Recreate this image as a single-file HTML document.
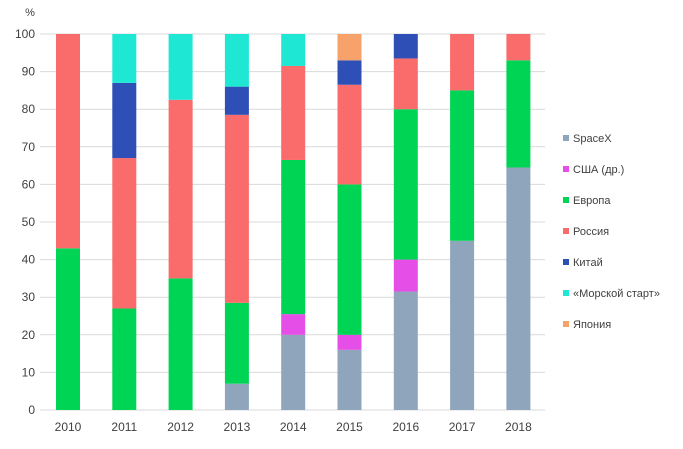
<!DOCTYPE html>
<html><head><meta charset="utf-8"><style>
body{margin:0;background:#fff;}
svg{display:block;font-family:"Liberation Sans",sans-serif;}
</style></head><body>
<svg id="c" width="683" height="449"></svg>
<script>
const years=["2010","2011","2012","2013","2014","2015","2016","2017","2018"];
const seriesNames=["SpaceX","США (др.)","Европа","Россия","Китай","«Морской старт»","Япония"];
const seriesColors=["#8ea5bb","#e64ee8","#00d454","#fa6b6b","#2e4fb5","#1ee8d4","#f6a26a"];
const spacex=[0,0,0,7,20,16,31.5,45,64.5];
const usa=[0,0,0,0,5.5,4,8.5,0,0];
const europe=[43,27,35,21.5,41,40,40,40,28.5];
const russia=[57,40,47.5,50,25,26.5,13.5,15,7];
const china=[0,20,0,7.5,0,6.5,6.5,0,0];
const seaLaunch=[0,13,17.5,14,8.5,0,0,0,0];
const japan=[0,0,0,0,0,7,0,0,0];
const yTicks=[0,10,20,30,40,50,60,70,80,90,100];
const series=[spacex,usa,europe,russia,china,seaLaunch,japan];
const NS="http://www.w3.org/2000/svg";
const svg=document.getElementById('c');
const y0=410,y100=34,xLeft=40,xRight=545;
const yS=v=>y0-(y0-y100)*v/100;
const xS=i=>68+i*56.3;
const bw=24;
function mk(t,a){const e=document.createElementNS(NS,t);for(const k in a)e.setAttribute(k,a[k]);svg.appendChild(e);return e;}
yTicks.forEach(t=>{
  const l=mk('line',{x1:xLeft,x2:xRight,y1:yS(t),y2:yS(t),stroke:'#d9d9d9','stroke-width':1});
  
  
  const tx=mk('text',{x:35,y:yS(t)+4,'text-anchor':'end','font-size':12,fill:'#404040'});
  tx.textContent=t;
  
  
});
const pc=mk('text',{x:30,y:16,'text-anchor':'middle','font-size':11,fill:'#404040'});
pc.textContent='%';


years.forEach((yr,i)=>{
  let acc=0;
  series.forEach((s,k)=>{
    const v=s[i];if(!v)return;
    const r=mk('rect',{x:xS(i)-bw/2,y:yS(acc+v),width:bw,height:yS(acc)-yS(acc+v),fill:seriesColors[k]});
    
    
    acc+=v;
  });
  const t=mk('text',{x:xS(i),y:431,'text-anchor':'middle','font-size':12,fill:'#404040'});
  t.textContent=yr;
  
  
});
seriesNames.forEach((n,k)=>{
  const yy=138+k*31;
  const r=mk('rect',{x:563,y:yy-3,width:6,height:6,fill:seriesColors[k]});
  
  
  const t=mk('text',{x:573,y:yy+4,'font-size':11,fill:'#404040'});
  t.textContent=n;
  
  
});
</script>
</body></html>
